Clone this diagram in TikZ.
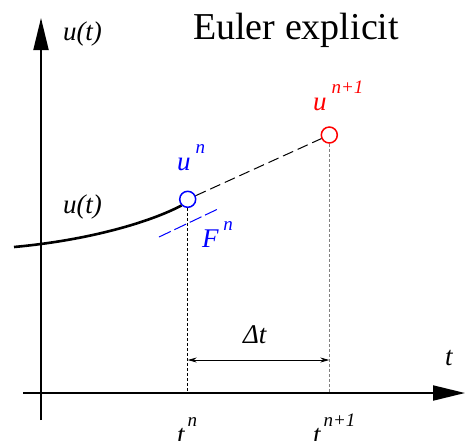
\documentclass[tikz,border=0pt]{standalone}
\usepackage{fontspec}
\setmainfont{Liberation Serif}
\usetikzlibrary{arrows.meta}
\newcommand\mypow[3]{#1\hspace{#3}\raisebox{17pt}{\fontsize{19}{19}\selectfont #2}}
\begin{document}
\begin{tikzpicture}[x=1pt,y=-1pt,
  lbl/.style={inner sep=0pt, outer sep=0pt, anchor=base west, font=\fontsize{27}{27}\selectfont\itshape},
  axis/.style={line width=2pt, -{Triangle[length=32pt,width=15pt]}},
  pt/.style={circle, line width=1.5pt, minimum size=16pt, inner sep=0pt, fill=white},
  guide/.style={line width=0.9pt, dash pattern=on 3pt off 2pt}]
\useasboundingbox (0,0) rectangle (465,440);
% axes
\coordinate (yb) at (41,420);
\coordinate (yt) at (41,18);
\coordinate (xl) at (23,393);
\coordinate (xr) at (465,393);
\draw[axis] (yb) -- (yt);
\draw[axis] (xl) -- (xr);
% points
\node[pt, draw=blue] (un) at (187.7,199.3) {};
\node[pt, draw=red] (un1) at (329.3,135) {};
% curve
\coordinate (cs) at (14,247);
\draw[line width=2.6pt] (cs) .. controls (90,240) and (150,222) .. (un.225);
% extrapolation
\draw[line width=1pt, dash pattern=on 11pt off 5pt] (un) -- (un1);
% tangent
\coordinate (fa) at (159,237);
\coordinate (fb) at (220,208);
\draw[blue, line width=1pt, dash pattern=on 13pt off 4pt] (fa) -- (fb);
% verticals
\coordinate (tn) at (187.7,393);
\coordinate (tn1) at (329.3,393);
\draw[guide] (un) -- (tn);
\draw[guide, gray] (un1) -- (tn1);
% delta t
\coordinate (da) at (187.7,360);
\coordinate (db) at (329.3,360);
\draw[line width=0.9pt, {Stealth[length=9pt,width=5pt]}-{Stealth[length=9pt,width=5pt]}] (da) -- (db);
% labels
\node[lbl] (ut1) at (63,40) {u(t)};
\node[lbl] (ut2) at (63,213) {u(t)};
\node[inner sep=0pt, anchor=base west, font=\fontsize{38}{38}\selectfont] (title) at (193,39.5) {Euler explicit};
\node[lbl, blue] (lun) at (177,170) {\mypow{u}{n}{5pt}};
\node[lbl, red] (lun1) at (313,110) {\mypow{u}{n+1}{5pt}};
\node[lbl, blue] (lfn) at (202,247) {\mypow{F}{n}{5pt}};
\node[lbl] (ldt) at (243,343) {Δt};
\node[lbl] (lt) at (445,365) {t};
\node[lbl] (ltn) at (177,443) {\mypow{t}{n}{3pt}};
\node[lbl] (ltn1) at (313,443) {\mypow{t}{n+1}{3pt}};
\end{tikzpicture}
\end{document}
